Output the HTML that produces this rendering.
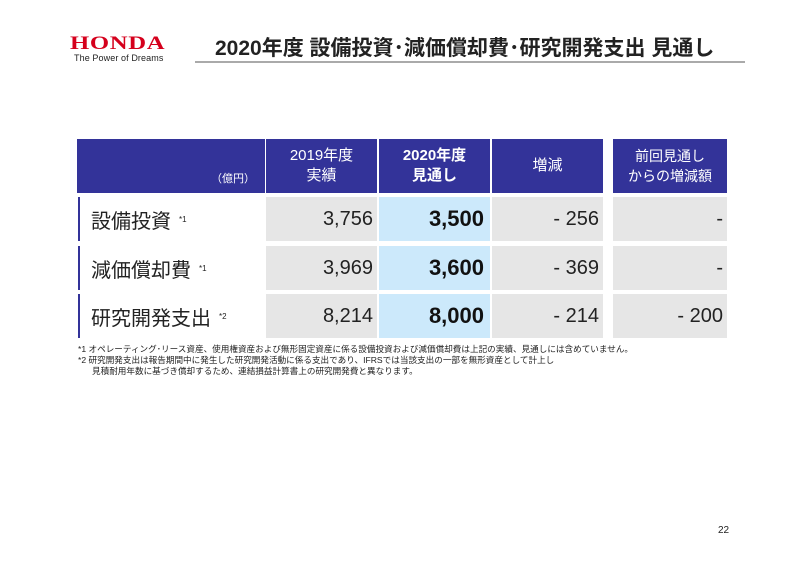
<!DOCTYPE html>
<html><head><meta charset="utf-8"><style>
body{margin:0;width:800px;height:566px;background:#fff;position:relative;overflow:hidden;font-family:"Liberation Sans","Noto Sans CJK JP",sans-serif;}
div{position:absolute;box-sizing:border-box;}
.h{background:#333399;color:#fff;display:flex;align-items:center;justify-content:center;text-align:center;font-size:15px;line-height:20px;}
.c{background:#e6e6e6;font-size:20px;color:#222;display:flex;align-items:center;justify-content:flex-end;padding-right:4px;}
.b{background:#cce9fb;font-weight:bold;font-size:22px;color:#111;padding-right:6px;}
.l{font-size:20px;color:#222;display:flex;align-items:center;padding-left:11px;border-left:2px solid #333399;}
.l sup{font-size:8px;margin-left:8px;vertical-align:8px;}
.f{font-size:8.6px;color:#222;white-space:nowrap;}
</style></head><body>
<div style="left:70px;top:33px;font-family:'Liberation Serif',serif;font-weight:bold;color:#d5001c;font-size:19px;letter-spacing:0.5px;transform:scaleX(1.3);transform-origin:left">HONDA</div>
<div style="left:74px;top:53px;font-size:9px;color:#222;letter-spacing:0.1px">The Power of Dreams</div>
<div style="left:215px;top:32px;font-size:21px;font-weight:bold;color:#222;white-space:nowrap">2020年度 設備投資･減価償却費･研究開発支出 見通し</div>
<div style="left:195px;top:61px;width:550px;height:2px;background:#aaa"></div>

<div class="h" style="left:77px;top:139px;width:188px;height:54px;justify-content:flex-end;align-items:flex-end;padding:0 10px 4px 0;font-size:11px">（億円）</div>
<div class="h" style="left:266px;top:139px;width:111px;height:54px">2019年度<br>実績</div>
<div class="h" style="left:379px;top:139px;width:111px;height:54px;font-weight:bold">2020年度<br>見通し</div>
<div class="h" style="left:492px;top:139px;width:111px;height:54px">増減</div>
<div class="h" style="left:613px;top:139px;width:114px;height:54px;font-size:14px">前回見通し<br>からの増減額</div>

<div class="l" style="left:78px;top:197px;width:187px;height:44px">設備投資<sup>*1</sup></div>
<div class="c" style="left:266px;top:197px;width:111px;height:44px">3,756</div>
<div class="c b" style="left:379px;top:197px;width:111px;height:44px">3,500</div>
<div class="c" style="left:492px;top:197px;width:111px;height:44px">- 256</div>
<div class="c" style="left:613px;top:197px;width:114px;height:44px">-</div>

<div class="l" style="left:78px;top:246px;width:187px;height:44px">減価償却費<sup>*1</sup></div>
<div class="c" style="left:266px;top:246px;width:111px;height:44px">3,969</div>
<div class="c b" style="left:379px;top:246px;width:111px;height:44px">3,600</div>
<div class="c" style="left:492px;top:246px;width:111px;height:44px">- 369</div>
<div class="c" style="left:613px;top:246px;width:114px;height:44px">-</div>

<div class="l" style="left:78px;top:294px;width:187px;height:44px">研究開発支出<sup>*2</sup></div>
<div class="c" style="left:266px;top:294px;width:111px;height:44px">8,214</div>
<div class="c b" style="left:379px;top:294px;width:111px;height:44px">8,000</div>
<div class="c" style="left:492px;top:294px;width:111px;height:44px">- 214</div>
<div class="c" style="left:613px;top:294px;width:114px;height:44px">- 200</div>

<div class="f" style="left:78px;top:343px">*1 オペレーティング･リース資産、使用権資産および無形固定資産に係る設備投資および減価償却費は上記の実績、見通しには含めていません。</div>
<div class="f" style="left:78px;top:354px">*2 研究開発支出は報告期間中に発生した研究開発活動に係る支出であり、IFRSでは当該支出の一部を無形資産として計上し</div>
<div class="f" style="left:92px;top:365px">見積耐用年数に基づき償却するため、連結損益計算書上の研究開発費と異なります。</div>
<div style="left:718px;top:525px;font-size:10px;color:#222">22</div>
</body></html>
